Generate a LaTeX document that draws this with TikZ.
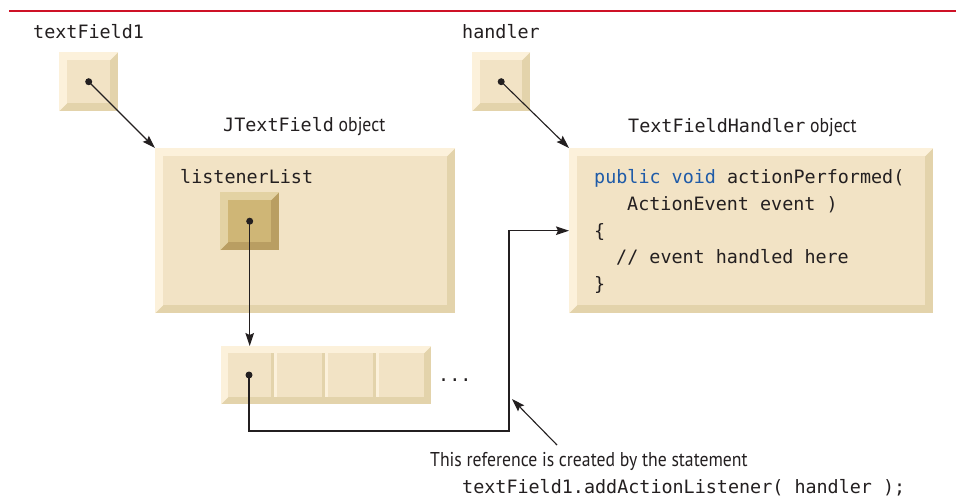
\documentclass[tikz,border=0pt]{standalone}
\usepackage{graphicx}
\usepackage{fontspec}
\setmainfont{PT Sans}
\setsansfont{PT Sans}
\setmonofont{DejaVu Sans Mono}
\usetikzlibrary{arrows.meta,calc}

\definecolor{bvlight}{RGB}{252,241,219}
\definecolor{bvface}{RGB}{242,227,197}
\definecolor{bvdark}{RGB}{227,211,171}
\definecolor{dklight}{RGB}{227,210,163}
\definecolor{dkface}{RGB}{207,182,118}
\definecolor{dkdark}{RGB}{185,158,98}
\definecolor{ink}{RGB}{35,31,32}
\definecolor{kw}{RGB}{31,91,168}
\definecolor{rulered}{RGB}{206,17,38}

\newcommand\sanstxt[1]{\scalebox{0.885}[1]{\sffamily\fontsize{20}{24}\selectfont #1}}
\newcommand\monotxt{\ttfamily\fontsize{18.4}{22}\selectfont}

\tikzset{
  bevel/.style n args={4}{draw=none, inner sep=0pt, fill=#3, anchor=north west,
    path picture={
      \fill[#1] (path picture bounding box.north west) -- (path picture bounding box.north east)
        -- ([shift={(-#4,-#4)}]path picture bounding box.north east)
        -- ([shift={(#4,-#4)}]path picture bounding box.north west)
        -- ([shift={(#4,#4)}]path picture bounding box.south west)
        -- (path picture bounding box.south west) -- cycle;
      \fill[#2] ([shift={(#4,#4)}]path picture bounding box.south west)
        rectangle ([shift={(-#4,-#4)}]path picture bounding box.north east);
    }},
  lightbox/.style={bevel={bvlight}{bvface}{bvdark}{8pt}},
  arraybox/.style={bevel={bvlight}{bvface}{bvdark}{7pt}},
  darkbox/.style={bevel={dklight}{dkface}{dkdark}{8pt}},
  lbl/.style={anchor=base west, inner sep=0pt, text=ink},
  codetxt/.style={font=\monotxt},
  conn/.style={draw=ink, line width=1.1pt, -{Stealth[length=13pt,width=8.5pt,inset=2pt]}},
  refdot/.style={fill=ink},
}

\begin{document}
\begin{tikzpicture}[x=1pt,y=-1pt]
\useasboundingbox (0,0) rectangle (956,499);
\fill[white] (0,0) rectangle (956,499);

% top rule
\draw[rulered, line width=2pt] (9,11) -- (956,11);

% variable labels
\node[lbl, codetxt] (tflbl) at (33,38) {textField1};
\node[lbl, codetxt] (hdlbl) at (462,38) {handler};

% reference variables
\node[lightbox, minimum width=59pt, minimum height=59pt] (tf) at (59,52) {};
\node[lightbox, minimum width=58pt, minimum height=59pt] (hd) at (472,52) {};

% object captions
\node[lbl, codetxt] (jtflbl) at (223,131) {JTextField\sanstxt{ object}};
\node[lbl, codetxt] (tfhlbl) at (628,132) {TextFieldHandler\sanstxt{ object}};

% JTextField object
\node[lightbox, minimum width=300pt, minimum height=165pt] (jtf) at (155,148) {};
\node[lbl, codetxt] (lllbl) at (180,183) {listenerList};
\node[darkbox, minimum width=59pt, minimum height=58pt] (ll) at (220,192) {};

% listener array
\node[arraybox, minimum width=210pt, minimum height=58pt] (arr) at (221,346) {};
\foreach \dx in {274,325,376}{
  \fill[bvdark] (\dx-3,353) rectangle (\dx,397);
  \fill[bvlight] (\dx,353) rectangle (\dx+3,397);
}
\node[lbl, codetxt] (dots) at (438,381) {...};

% TextFieldHandler object
\node[lightbox, minimum width=364pt, minimum height=165pt] (tfh) at (569,148) {};
\node[lbl, codetxt] (c1) at (594,183) {\textcolor{kw}{public void} actionPerformed(};
\node[lbl, codetxt] (c2) at (627,210) {ActionEvent event )};
\node[lbl, codetxt] (c3) at (594,237) {\{};
\node[lbl, codetxt] (c4) at (616,263) {// event handled here};
\node[lbl, codetxt] (c5) at (594,290) {\}};

% note
\node[lbl] (note1) at (430,466) {\sanstxt{This reference is created by the statement}};
\node[lbl, codetxt] (note2) at (462,493) {textField1.addActionListener( handler );};

% coordinates
\coordinate (celldot) at (249,375);
\coordinate (low) at (509,431);
\coordinate (ntail) at (557,445);
\coordinate (nhead) at (512,399);

% connectors
\draw[conn] (tf.center) -- (jtf.north west);
\draw[conn] (hd.center) -- (tfh.north west);
\draw[conn] (ll.center) -- (ll.center |- arr.north);
\draw[conn] (celldot) |- (low) |- (tfh.west);
\draw[conn] (ntail) -- (nhead);

% dots
\fill[refdot] (tf.center) circle (3.5pt);
\fill[refdot] (hd.center) circle (3.5pt);
\fill[refdot] (ll.center) circle (3.5pt);
\fill[refdot] (celldot) circle (3.5pt);
\end{tikzpicture}
\end{document}
